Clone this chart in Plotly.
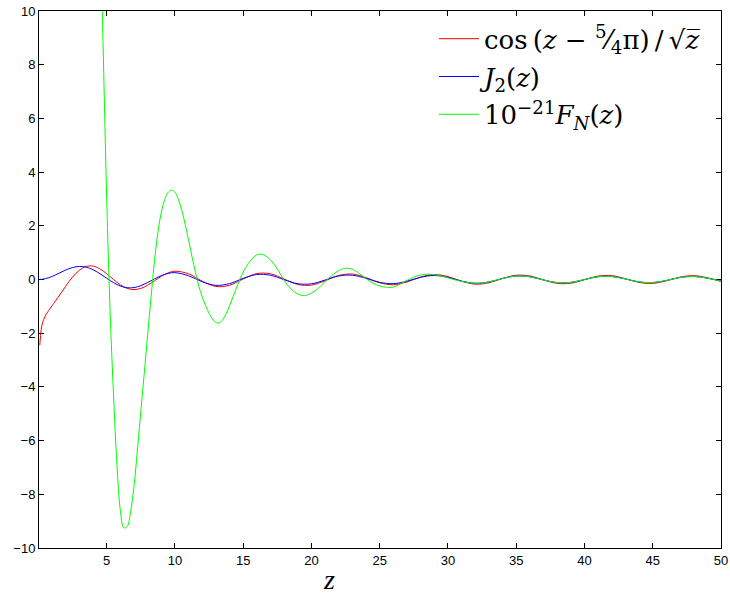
import plotly.graph_objects as go

# --- data ---
z_rb = [0.1, 0.2, 0.3, 0.5, 0.75, 1.0, 1.5, 2.0, 2.5, 3.0, 3.5, 4.0, 4.5, 5.0, 5.5, 6.0,
        6.5, 7.0, 7.5, 8.0, 8.5, 9.0, 9.5, 10.0, 11, 12, 13, 14, 15, 16, 17, 18, 19, 20,
        21, 22, 23, 24, 25, 26, 27, 28, 29, 30, 31, 32, 33, 34, 35, 36, 37, 38, 39, 40,
        41, 42, 43, 44, 45, 46, 47, 48, 49, 50]

red_vals = [-2.448, -1.864, -1.615, -1.357, -1.154, -0.977, -0.617, -0.247, 0.091, 0.347,
            0.487, 0.499, 0.396, 0.214, -0.001, -0.197, -0.331, -0.377, -0.332, -0.211,
            -0.048, 0.117, 0.246, 0.309, 0.212, -0.063, -0.260, -0.213, 0.020, 0.220,
            0.212, 0.015, -0.185, -0.209, -0.045, 0.152, 0.203, 0.069, -0.122, -0.196,
            -0.091, 0.093, 0.185, 0.108, -0.065, -0.173, -0.122, 0.039, 0.159, 0.132,
            -0.014, -0.144, -0.139, -0.009, 0.127, 0.144, 0.030, -0.109, -0.145, -0.049,
            0.090, 0.144, 0.066, -0.070]

blue_vals = [0.001, 0.005, 0.011, 0.031, 0.067, 0.115, 0.232, 0.353, 0.446, 0.486,
             0.459, 0.364, 0.218, 0.047, -0.117, -0.243, -0.307, -0.301, -0.230, -0.113,
             0.022, 0.145, 0.228, 0.255, 0.139, -0.085, -0.218, -0.152, 0.042, 0.186,
             0.158, -0.008, -0.158, -0.161, -0.020, 0.132, 0.159, 0.043, -0.107, -0.155,
             -0.063, 0.083, 0.149, 0.079, -0.060, -0.140, -0.091, 0.038, 0.129, 0.101,
             -0.018, -0.118, -0.108, -0.001, 0.104, 0.113, 0.019, -0.090, -0.115, -0.035,
             0.075, 0.114, 0.049, -0.060]

z_green = [4.5, 4.75, 5.0, 5.25, 5.5, 5.75, 6.0, 6.25, 6.5, 6.75, 7.0, 7.25, 7.5, 7.75,
           8.0, 8.25, 8.5, 8.75, 9.0, 9.25, 9.5, 9.75, 10.0, 10.25, 10.5, 10.75, 11.0,
           11.25, 11.5, 11.75, 12.0, 12.25, 12.5, 12.75, 13.0, 13.25, 13.5, 13.75, 14.0,
           14.25, 14.5, 14.75, 15.0, 15.5, 16.0, 16.5, 17.0, 17.5, 18.0, 18.5,
           19.0, 19.5, 20.0, 20.5, 21.0, 21.5, 22.0, 22.5, 23.0, 23.5, 24.0, 24.5, 25.0,
           25.5, 26.0, 26.5, 27.0, 27.5, 28.0, 28.5, 29.0, 29.5, 30.0, 31, 32, 33, 34,
           35, 36, 37, 38, 39, 40, 41, 42, 43, 44, 45, 46, 47, 48, 49, 50]

green_vals = [14.0, 8.4, 3.0, -1.2, -4.3, -6.9, -8.6, -9.25, -9.2, -8.65, -7.7, -6.35,
              -4.9, -3.5, -2.05, -0.65, 0.7, 1.75, 2.5, 2.98, 3.24, 3.33, 3.25, 2.98,
              2.58, 2.05, 1.45, 0.85, 0.27, -0.25, -0.65, -0.98, -1.26, -1.47, -1.6, -1.62,
              -1.5, -1.28, -0.98, -0.65, -0.32, 0.0, 0.28, 0.68, 0.92, 0.92, 0.72,
              0.4, -0.04, -0.35, -0.54, -0.6, -0.5, -0.33, -0.07, 0.15, 0.33, 0.42, 0.38,
              0.22, 0.03, -0.14, -0.24, -0.29, -0.28, -0.17, -0.03, 0.09, 0.17, 0.2, 0.18,
              0.13, 0.06, -0.07, -0.14, -0.091, 0.038, 0.129, 0.101, -0.018, -0.118,
              -0.108, -0.001, 0.104, 0.113, 0.019, -0.090, -0.115, -0.035, 0.075, 0.114,
              0.049, -0.060]

x_ticks = [5, 10, 15, 20, 25, 30, 35, 40, 45, 50]
y_ticks = [-10, -8, -6, -4, -2, 0, 2, 4, 6, 8, 10]

legend_names = [
    "cos\u2009(<i>z</i> − <sup>5</sup>⁄<sub>4</sub>π)\u2009/\u2009√<i>z̅</i>",
    "<i>J</i><sub>2</sub>(<i>z</i>)",
    "10<sup>−21</sup><i>F</i><sub><i>N</i></sub>(<i>z</i>)",
]
x_label = "<i>z</i>"

fig = go.Figure()
fig.add_trace(go.Scatter(x=z_rb, y=red_vals, mode="lines", name=legend_names[0],
                         legendgroup="a",
                         line=dict(color="rgb(255,0,0)", width=1, shape="spline")))
fig.add_trace(go.Scatter(x=z_rb, y=blue_vals, mode="lines", name=legend_names[1],
                         legendgroup="b",
                         line=dict(color="rgb(0,0,255)", width=1, shape="spline")))
fig.add_trace(go.Scatter(x=z_green, y=green_vals, mode="lines", name=legend_names[2],
                         legendgroup="c",
                         line=dict(color="rgb(0,255,0)", width=1, shape="spline")))

axis_common = dict(showgrid=False, zeroline=False, showline=True, linecolor="black",
                   linewidth=1, mirror="ticks", ticks="inside", ticklen=5,
                   tickcolor="black", ticklabeloverflow="allow", automargin=False,
                   layer="below traces",
                   tickfont=dict(family="Liberation Sans, Arial", size=13, color="black"))

fig.update_xaxes(range=[0.04, 50], tickvals=x_ticks, ticktext=[str(v) for v in x_ticks],
                 **axis_common)
fig.update_yaxes(range=[-10, 10], tickvals=y_ticks,
                 ticktext=[("−" + str(-v)) if v < 0 else str(v) for v in y_ticks],
                 **axis_common)

fig.add_annotation(text=x_label, x=21.3, xref="x", y=-0.058, yref="paper",
                   xanchor="center", yanchor="middle", showarrow=False,
                   font=dict(family="Liberation Serif, serif", size=28, color="black"))

fig.update_layout(
    width=730, height=596,
    margin=dict(l=39, r=9, t=11, b=48, autoexpand=False),
    paper_bgcolor="white", plot_bgcolor="white",
    showlegend=True,
    legend=dict(x=0.978, y=0.992, xanchor="right", yanchor="top",
                bgcolor="rgba(255,255,255,0)", borderwidth=0,
                font=dict(family="DejaVu Serif, serif", size=26, color="black"),
                tracegroupgap=1, itemwidth=40),
)

fig.write_html("out.html", config={"displayModeBar": False},
               post_script="document.body.style.margin='0px';document.body.style.padding='0px';")
